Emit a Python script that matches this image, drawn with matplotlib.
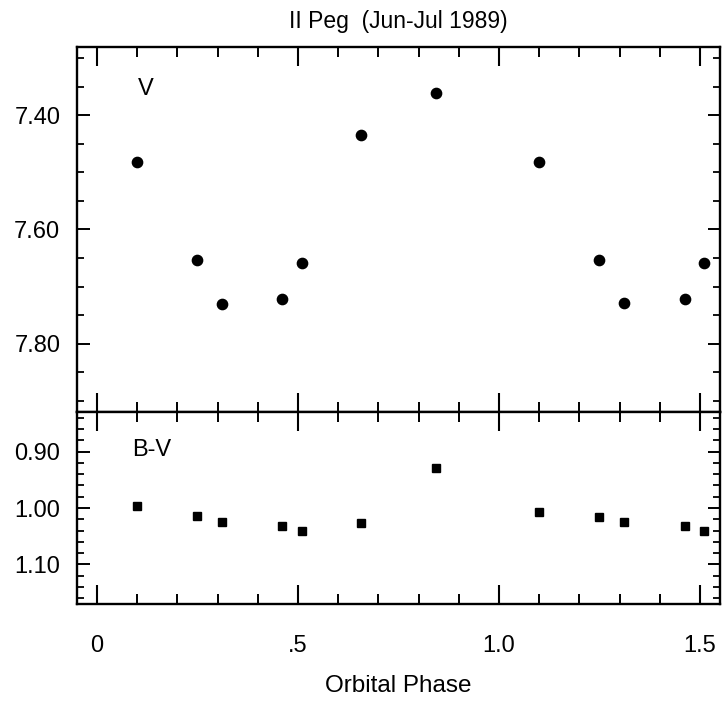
"""II Peg V and B-V light curves against orbital phase (Jun-Jul 1989)."""

import matplotlib

matplotlib.use("Agg")
import matplotlib.pyplot as plt
from matplotlib.ticker import FixedFormatter, FixedLocator, MultipleLocator

plt.rcParams["font.family"] = ["Liberation Sans", "DejaVu Sans"]

# data
phase = [0.099, 0.248, 0.312, 0.461, 0.509, 0.656, 0.843,
         1.099, 1.249, 1.312, 1.463, 1.510]
v_mag = [7.481, 7.653, 7.730, 7.722, 7.658, 7.435, 7.360,
         7.481, 7.653, 7.729, 7.722, 7.658]
b_minus_v = [0.996, 1.015, 1.025, 1.032, 1.041, 1.026, 0.929,
             1.007, 1.016, 1.025, 1.032, 1.041]

x_ticks = [0.0, 0.5, 1.0, 1.5]
x_labels = ["0", ".5", "1.0", "1.5"]
v_ticks = [7.40, 7.60, 7.80]
bv_ticks = [0.90, 1.00, 1.10]

fig = plt.figure(figsize=(7.22, 7.02), dpi=100)
ax_v = fig.add_axes([0.1066, 0.4131, 0.8906, 0.5200])
ax_bv = fig.add_axes([0.1066, 0.1396, 0.8906, 0.2735], sharex=ax_v)

ax_v.plot(phase, v_mag, "o", color="black", markersize=7.4, linestyle="none")
ax_bv.plot(phase, b_minus_v, "s", color="black", markersize=5.6, linestyle="none")

ax_v.set_xlim(-0.05, 1.55)
ax_v.set_ylim(7.92, 7.28)
ax_bv.set_ylim(1.17, 0.83)

for ax in (ax_v, ax_bv):
    for spine in ax.spines.values():
        spine.set_linewidth(1.7)
    ax.xaxis.set_major_locator(FixedLocator(x_ticks))
    ax.xaxis.set_minor_locator(MultipleLocator(0.1))
    ax.tick_params(axis="x", which="major", direction="in", top=True, bottom=True,
                   length=14, width=1.5)
    ax.tick_params(axis="x", which="minor", direction="in", top=True, bottom=True,
                   length=7, width=1.4)
    ax.tick_params(axis="y", which="major", direction="in", left=True, right=True,
                   length=9, width=1.4, labelsize=17, pad=12)
    ax.tick_params(axis="y", which="minor", direction="in", left=True, right=True,
                   length=5, width=1.3)

ax_v.yaxis.set_major_locator(FixedLocator(v_ticks))
ax_v.yaxis.set_major_formatter(FixedFormatter([f"{t:.2f}" for t in v_ticks]))
ax_v.yaxis.set_minor_locator(MultipleLocator(0.05))
ax_v.tick_params(axis="x", labelbottom=False)

ax_bv.yaxis.set_major_locator(FixedLocator(bv_ticks))
ax_bv.yaxis.set_major_formatter(FixedFormatter([f"{t:.2f}" for t in bv_ticks]))
ax_bv.yaxis.set_minor_locator(MultipleLocator(0.02))
ax_bv.xaxis.set_major_formatter(FixedFormatter(x_labels))
ax_bv.tick_params(axis="x", which="major", labelsize=17, pad=22)

ax_v.text(0.102, 7.353, "V", fontsize=17, va="center", ha="left")
ax_bv.text(0.087, 0.898, "B-V", fontsize=17, va="center", ha="left")

ax_v.set_title("II Peg  (Jun-Jul 1989)", fontsize=16.5, pad=14)
ax_bv.set_xlabel("Orbital Phase", fontsize=17.5, labelpad=13)

fig.savefig("out.png", dpi=100)
